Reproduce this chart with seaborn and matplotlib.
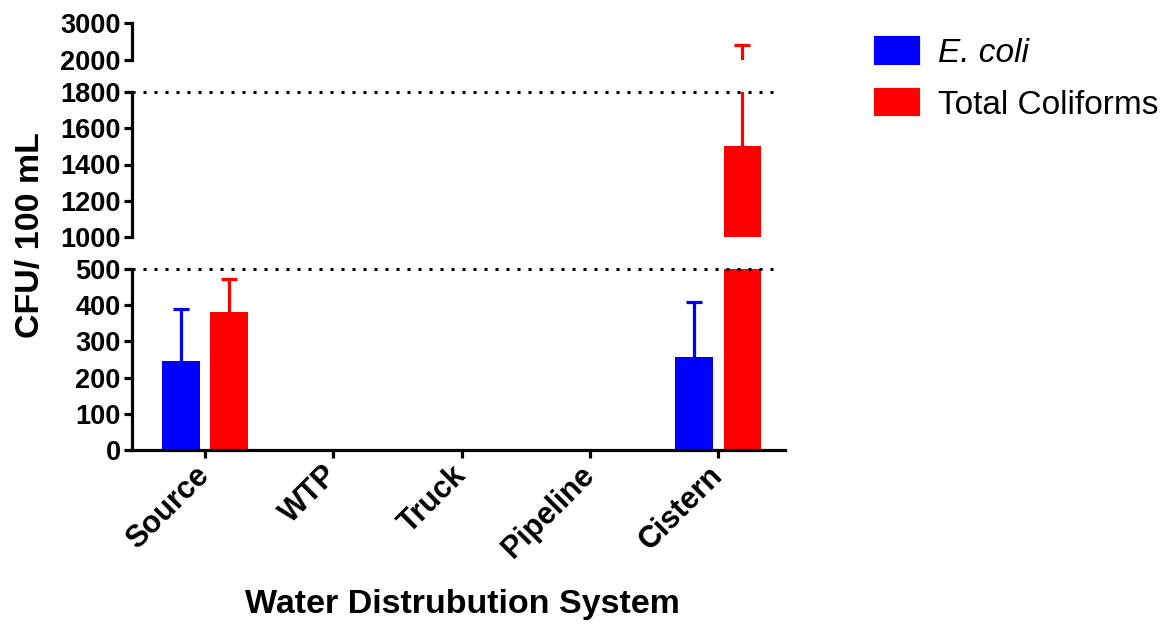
import numpy as np
import pandas as pd
import matplotlib
matplotlib.use("Agg")
import matplotlib.pyplot as plt
import seaborn as sns
from matplotlib.patches import Patch

# values
systems = ["Source", "WTP", "Truck", "Pipeline", "Cistern"]
ecoli = [247, 0, 0, 0, 257]
ecoli_err = [143, 0, 0, 0, 152]
coliforms = [381, 0, 0, 0, 1500]
coliforms_err = [91, 0, 0, 0, 900]

groups = ["E. coli", "Total Coliforms"]
colors = {"E. coli": "#0000FF", "Total Coliforms": "#FF0000"}

# y ranges of the three axis segments and their ticks
segments = [
    ((0, 500), [0, 100, 200, 300, 400, 500]),
    ((1000, 1800), [1000, 1200, 1400, 1600, 1800]),
    ((2000, 3000), [2000, 3000]),
]

sns.set_style("ticks")
plt.rcParams["font.family"] = ["Liberation Sans", "DejaVu Sans"]
plt.rcParams["font.weight"] = "bold"
for key in ["text.color", "axes.labelcolor", "xtick.color", "ytick.color",
            "axes.edgecolor"]:
    plt.rcParams[key] = "black"

df = pd.DataFrame({
    "system": systems * 2,
    "group": [groups[0]] * len(systems) + [groups[1]] * len(systems),
    "value": ecoli + coliforms,
})
errs = [ecoli_err, coliforms_err]

fig = plt.figure(figsize=(11.69, 6.25), dpi=100)
left, width = 0.1129, 0.5586
rects = [
    [left, 0.28, width, 0.2896],
    [left, 0.6208, width, 0.232],
    [left, 0.904, width, 0.0592],
]

lw = 2.3
for i, (rect, (ylim, ticks)) in enumerate(zip(rects, segments)):
    ax = fig.add_axes(rect)
    sns.barplot(data=df, x="system", y="value", hue="group", palette=colors,
                hue_order=groups, order=systems, width=0.75, gap=0.22,
                saturation=1, linewidth=0, legend=False, errorbar=None, ax=ax)
    # upward-only error bars, cap only on the top end
    for cont, err, grp in zip(ax.containers, errs, groups):
        xs, ys, es = [], [], []
        for bar, e in zip(cont, err):
            if e > 0:
                xs.append(bar.get_x() + bar.get_width() / 2)
                ys.append(bar.get_height())
                es.append(e)
        if xs:
            _, caps, _ = ax.errorbar(xs, ys, yerr=[np.zeros(len(es)), es],
                                     fmt="none", ecolor=colors[grp],
                                     elinewidth=lw, capsize=5.5, capthick=lw,
                                     zorder=1)
            caps[0].set_visible(False)
    ax.set_ylim(*ylim)
    ax.set_xlim(-0.57, 4.52)
    ax.set_yticks(ticks)
    ax.set_ylabel("")
    ax.set_xlabel("")
    ax.tick_params(axis="y", labelsize=19.5, width=lw, length=6,
                   direction="out", pad=2)
    for s in ["top", "right"]:
        ax.spines[s].set_visible(False)
    ax.spines["left"].set_linewidth(lw)
    if i == 0:
        ax.spines["bottom"].set_linewidth(lw)
        ax.tick_params(axis="x", labelsize=22, width=lw, length=6, pad=9)
        ax.set_xticks(range(len(systems)))
        ax.set_xticklabels(systems, rotation=45, ha="right", va="center",
                           rotation_mode="anchor")
    else:
        ax.spines["bottom"].set_visible(False)
        ax.set_xticks([])
    if i < 2:
        ax.axhline(ylim[1], xmin=0, xmax=0.99, color="black",
                   ls=(0, (1, 2.6)), lw=2.2, clip_on=False)
    ax.set_facecolor("none")

fig.text(31 / 1169, 1 - 235 / 625, "CFU/ 100 mL", rotation=90, ha="center",
         va="center", fontsize=24.5, fontweight="bold")
fig.text(462 / 1169, 1 - 605 / 625, "Water Distrubution System", ha="center",
         va="center", fontsize=24.5, fontweight="bold")

handles = [Patch(facecolor=colors[g], edgecolor=colors[g], linewidth=3,
                 joinstyle="round") for g in groups]
leg = fig.legend(handles, groups, loc="upper left",
                 bbox_to_anchor=(876 / 1169, 1 - 38 / 625), frameon=False,
                 prop={"size": 24, "weight": "normal"}, handlelength=1.25,
                 handleheight=0.75, handletextpad=0.6, labelspacing=0.62,
                 borderpad=0, borderaxespad=0)
leg.get_texts()[0].set_style("italic")

fig.savefig("out.png", dpi=100)
